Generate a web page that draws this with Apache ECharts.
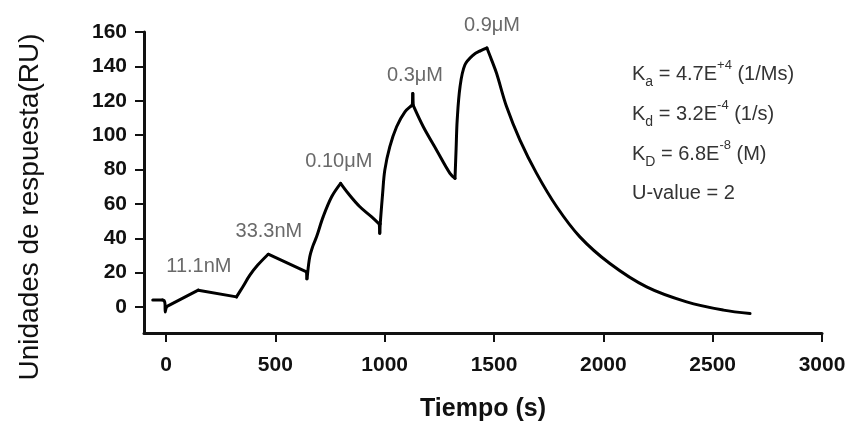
<!DOCTYPE html>
<html>
<head>
<meta charset="utf-8">
<script src="https://cdn.jsdelivr.net/npm/echarts@6/dist/echarts.min.js"></script>
<style>
  html, body { margin: 0; padding: 0; background: #fff; }
  #chart { width: 851px; height: 424px; }
</style>
</head>
<body>
<div id="chart"></div>
<script>
// Sensorgrama SPR: respuesta (RU) frente al tiempo (s)
const tiempo = [
  -60, -15, -8, -4, -3, 0, 3, 148, 323, 350, 384, 420, 468,
  643, 645, 648, 658, 672, 689, 719, 758, 799,
  834, 887, 941, 976, 978, 980, 991, 1001, 1024, 1055, 1093, 1127, 1129, 1131,
  1177, 1238, 1299, 1322, 1327, 1332, 1345, 1367, 1405, 1440, 1468,
  1490, 1512, 1558, 1619, 1695, 1787, 1893, 2030, 2198, 2381, 2549, 2671
];
const respuesta = [
  4.2, 4.2, 3.8, 2.0, -2.8, -1.0, 0.3, 9.9, 6.0, 11.5, 18.6, 24.5, 30.8,
  20.5, 16.5, 19.5, 29.3, 35.5, 40.9, 52.5, 64.2, 72.0,
  66.1, 58.4, 52.5, 48.3, 43.0, 48.5, 66.0, 79.7, 93.3, 104.9, 113.6, 117.5, 124.3, 117.3,
  104.9, 91.3, 77.8, 74.9, 92.0, 108.8, 128.2, 140.8, 146.6, 149.2, 150.7,
  143.5, 136.0, 116.5, 97.2, 77.8, 58.4, 40.9, 25.4, 11.8, 3.1, -1.7, -3.7
];
// instantes con esquina marcada (inyeccion / fin de inyeccion)
const esquinas = [-15, 3, 148, 323, 468, 643, 645, 648, 799, 976, 978, 980, 1127, 1129, 1131, 1322, 1468];

// Concentraciones inyectadas y posicion de sus etiquetas (en unidades de datos)
const concentraciones = ['11.1nM', '33.3nM', '0.10\u03bcM', '0.3\u03bcM', '0.9\u03bcM'];
const etiquetaT = [151, 471, 791, 1139, 1491];
const etiquetaRU = [23.6, 43.9, 84.7, 134.7, 164];

// Constantes cineticas (texto enriquecido)
const constantes = [
  '{t|K}{sub|a}{t| = 4.7E}{sup|+4}{t| (1/Ms)}',
  '{t|K}{sub|d}{t| = 3.2E}{sup|-4}{t| (1/s)}',
  '{t|K}{sub|D}{t| = 6.8E}{sup|-8}{t| (M)}',
  '{t|U-value = 2}'
];

const FONT = '"Liberation Sans", Arial, Helvetica, sans-serif';
const chart = echarts.init(document.getElementById('chart'));

const richK = {
  t: { fontSize: 20, lineHeight: 30, fontFamily: FONT, fill: '#333' },
  sub: { fontSize: 14, lineHeight: 16, verticalAlign: 'bottom', fontFamily: FONT, fill: '#333' },
  sup: { fontSize: 13, lineHeight: 16, verticalAlign: 'top', fontFamily: FONT, fill: '#333' }
};
const kY = [74, 114, 154, 193];

const plain = v => String(v);

// split the trace at the sharp corners so each piece can be smoothed on its own
const tramos = [];
let actual = [];
tiempo.forEach((t, i) => {
  actual.push([t, respuesta[i]]);
  if (esquinas.includes(t) && actual.length > 1) {
    tramos.push(actual);
    actual = [[t, respuesta[i]]];
  }
});
if (actual.length > 1) tramos.push(actual);

const lineSeries = tramos.map(seg => ({
  type: 'line', xAxisIndex: 0, yAxisIndex: 0,
  data: seg, showSymbol: false, symbol: 'none',
  smooth: seg.length > 2 ? 0.35 : false,
  lineStyle: { color: '#000', width: 3, cap: 'round', join: 'round' },
  silent: true
}));

const option = {
  animation: false,
  backgroundColor: '#fff',
  grid: [
    // data grid: x -100..3000, y -15..160 (axis lines only)
    { left: 144, right: 29, top: 32, bottom: 91, outerBoundsMode: 'none', containLabel: false },
    // tick grid: x 0..3000, y 0..160 (ticks + labels, offset onto the lines)
    { left: 166, right: 29, top: 32, bottom: 117, outerBoundsMode: 'none', containLabel: false }
  ],
  xAxis: [
    {
      type: 'value', gridIndex: 0, min: -100, max: 3000,
      axisLine: { show: true, onZero: false, lineStyle: { color: '#111', width: 3 } },
      axisTick: { show: false }, axisLabel: { show: false }, splitLine: { show: false },
      name: 'Tiempo (s)', nameLocation: 'middle', nameGap: 64,
      nameTextStyle: { fontFamily: FONT, fontSize: 25, fontWeight: 'bold', color: '#111' }
    },
    {
      type: 'value', gridIndex: 1, min: 0, max: 3000, interval: 500, offset: 26,
      axisLine: { show: false, onZero: false },
      axisTick: { show: true, length: 9, inside: false, lineStyle: { color: '#111', width: 2 } },
      axisLabel: {
        show: true, margin: 22, fontFamily: FONT, fontSize: 21, fontWeight: 'bold', color: '#111',
        showMinLabel: true, showMaxLabel: true, formatter: plain
      },
      splitLine: { show: false }
    }
  ],
  yAxis: [
    {
      type: 'value', gridIndex: 0, min: -15, max: 160,
      axisLine: { show: true, onZero: false, lineStyle: { color: '#111', width: 3 } },
      axisTick: { show: false }, axisLabel: { show: false }, splitLine: { show: false }
    },
    {
      type: 'value', gridIndex: 1, min: 0, max: 160, interval: 20, offset: 22,
      axisLine: { show: false, onZero: false },
      axisTick: { show: true, length: 9, inside: false, lineStyle: { color: '#111', width: 2 } },
      axisLabel: {
        show: true, margin: 17, fontFamily: FONT, fontSize: 21, fontWeight: 'bold', color: '#111',
        showMinLabel: true, showMaxLabel: true, formatter: plain
      },
      splitLine: { show: false }
    }
  ],
  graphic: [
    {
      type: 'text', x: 30, y: 207, rotation: Math.PI / 2,
      style: {
        text: 'Unidades de respuesta(RU)', align: 'center', verticalAlign: 'middle',
        font: '28px ' + FONT, fill: '#111'
      }
    }
  ].concat(constantes.map((txt, i) => ({
    type: 'text', x: 632, y: kY[i],
    style: { text: txt, align: 'left', verticalAlign: 'middle', rich: richK }
  }))),
  series: lineSeries.concat([
    {
      type: 'scatter', xAxisIndex: 0, yAxisIndex: 0, clip: false,
      symbolSize: 1, itemStyle: { color: 'rgba(0,0,0,0)' },
      data: concentraciones.map((c, i) => ({ name: c, value: [etiquetaT[i], etiquetaRU[i]] })),
      label: {
        show: true, position: 'inside', formatter: '{b}',
        fontFamily: FONT, fontSize: 20, color: '#444'
      },
      silent: true
    }
  ])
};

chart.setOption(option);
</script>
</body>
</html>
